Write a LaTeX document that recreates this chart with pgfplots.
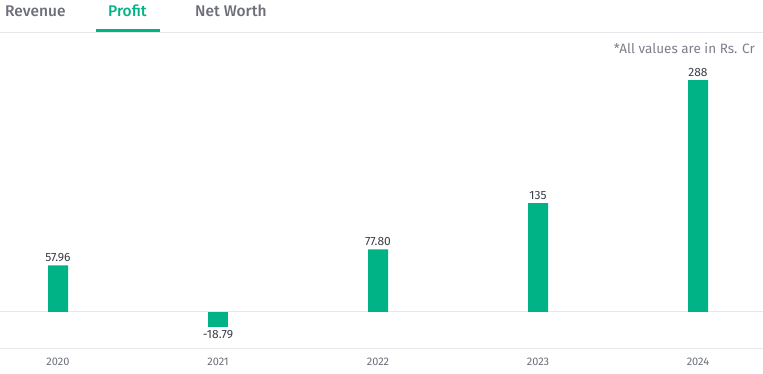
\documentclass[border=0pt]{standalone}
\usepackage{pgfplots}
\pgfplotsset{compat=1.18}
\usepackage{fontspec}
\setmainfont{Fira Sans}
\newfontfamily\tabfont{Fira Sans Medium}
\definecolor{grgreen}{RGB}{0,179,134}
\definecolor{tabgray}{RGB}{108,110,122}
\definecolor{notegray}{RGB}{124,126,140}
\definecolor{labdark}{RGB}{60,62,76}
\definecolor{linegray}{RGB}{232,232,234}
\begin{document}
\begin{tikzpicture}[x=1pt,y=1pt]
\path[use as bounding box] (0,0) rectangle (763,-374);
% tabs
\node[anchor=west,font=\fontsize{15.5}{18}\selectfont\tabfont,text=tabgray,inner sep=0] at (5,-11) {Revenue};
\node[anchor=west,font=\fontsize{15.5}{18}\selectfont\tabfont,text=grgreen,inner sep=0] at (108,-11) {Profit};
\node[anchor=west,font=\fontsize{15.5}{18}\selectfont\tabfont,text=tabgray,inner sep=0] at (195,-11) {Net Worth};
\fill[linegray] (0,-32) rectangle (763,-33.2);
\fill[grgreen] (96,-29) rectangle (160,-32.5);
\node[anchor=east,font=\fontsize{13.5}{16}\selectfont,text=notegray,inner sep=0] at (755,-48) {*All values are in Rs. Cr};
\begin{axis}[
  at={(0pt,-348pt)}, anchor=south west,
  scale only axis, width=763pt, height=316pt,
  xmin=2019.6375, xmax=2024.40625,
  ymin=-44.7, ymax=347.6,
  ybar, bar width=20pt,
  axis line style={draw=none},
  ytick={0}, yticklabels={}, ymajorgrids,
  grid style={linegray, line width=1pt},
  major tick length=0pt,
  xtick={2020,2021,2022,2023,2024},
  /pgf/number format/assume math mode=true,
  xticklabel style={/pgf/number format/1000 sep={}, font=\fontsize{11}{13}\selectfont, text=tabgray, yshift=-6pt},
  point meta=explicit symbolic,
  nodes near coords={\pgfplotspointmeta},
  every node near coord/.append style={font=\fontsize{12}{14}\selectfont, text=labdark, inner sep=3pt},
  clip=false,
]
\addplot[fill=grgreen, draw=none, bar shift=0pt, every node near coord/.append style={anchor=south}] table[meta=lab] {
x y lab
2020 57.96 57.96
2022 77.80 77.80
2023 135 135
2024 288 288
};
\addplot[fill=grgreen, draw=none, bar shift=0pt, every node near coord/.append style={anchor=north}] table[meta=lab] {
x y lab
2021 -18.79 -18.79
};
\end{axis}
\fill[linegray] (0,-348) rectangle (763,-349.2);
\end{tikzpicture}
\end{document}
